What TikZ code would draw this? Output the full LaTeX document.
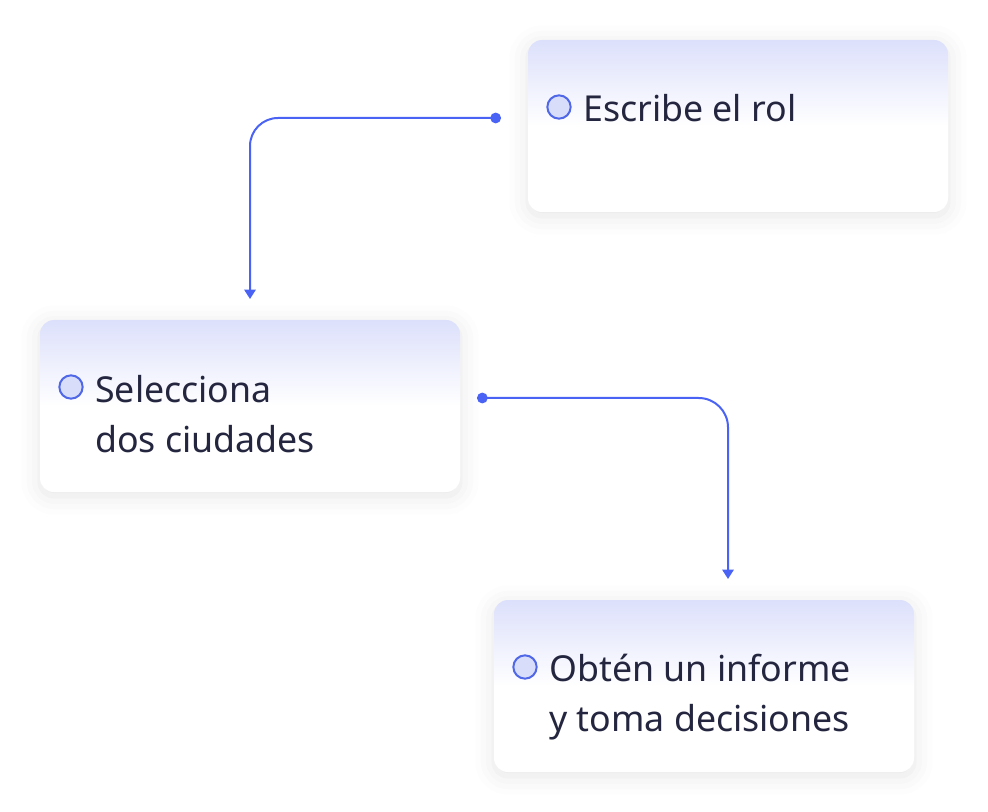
\documentclass[tikz,border=0pt]{standalone}
\usepackage{fontspec}
\setmainfont{Noto Sans}
\usepackage{tikz}
\usetikzlibrary{arrows.meta,shadows.blur}

\definecolor{cardtop}{HTML}{DCE0FB}
\definecolor{linkblue}{HTML}{4A63F5}
\definecolor{markfill}{HTML}{D8DDFA}
\definecolor{markline}{HTML}{5068E8}
\definecolor{ink}{HTML}{24263F}
\pgfdeclareverticalshading{cardfade}{100bp}{color(0bp)=(white); color(50bp)=(white); color(75bp)=(cardtop); color(100bp)=(cardtop)}

\begin{document}
\begin{tikzpicture}[x=0.75pt,y=-0.75pt]
\tikzset{
card/.style={ rectangle , rounded corners=10.5pt ,
minimum width=315pt , minimum height=129pt , inner sep=0pt ,
shading=cardfade , draw=none ,
blur shadow={shadow xshift=0pt , shadow yshift=-3pt , shadow blur radius=14pt , shadow opacity=10} },
marker/.style={ circle , minimum size=17.5pt , inner sep=0pt ,
line width=1.5pt , draw=markline , fill=markfill },
label/.style={ anchor=base west , inner sep=0pt , align=left ,
font=\fontsize{26.8}{37.5}\selectfont , text=ink },
link/.style={ line width=1.5pt , draw=linkblue ,
{Circle[length=8pt,fill=linkblue]}-{Triangle[width=8.5pt,length=7pt,fill=linkblue]} }
}
\useasboundingbox (0,0) rectangle (988,812);

\node[card] (rol) at (738,126) {};
\node[card] (sel) at (250,406) {};
\node[card] (inf) at (704,686) {};

\node[marker] (rol-mark) at (559,107) {};
\node[marker] (sel-mark) at (71,387) {};
\node[marker] (inf-mark) at (525,667) {};

% multi-line labels sit on their last baseline
\node[label] (rol-text) at (583,122) {Escribe el rol};
\node[label] (sel-text) at (95,452) {Selecciona\\dos ciudades};
\node[label] (inf-text) at (549,731) {Obtén un informe\\y toma decisiones};

\coordinate (rol-out) at (501,118);
\coordinate (sel-in) at (250,299);
\coordinate (sel-out) at (477,398);
\coordinate (inf-in) at (728,579);

\draw[link,rounded corners=21pt] (rol-out) -| (sel-in);
\draw[link,rounded corners=22pt] (sel-out) -| (inf-in);

\end{tikzpicture}
\end{document}
